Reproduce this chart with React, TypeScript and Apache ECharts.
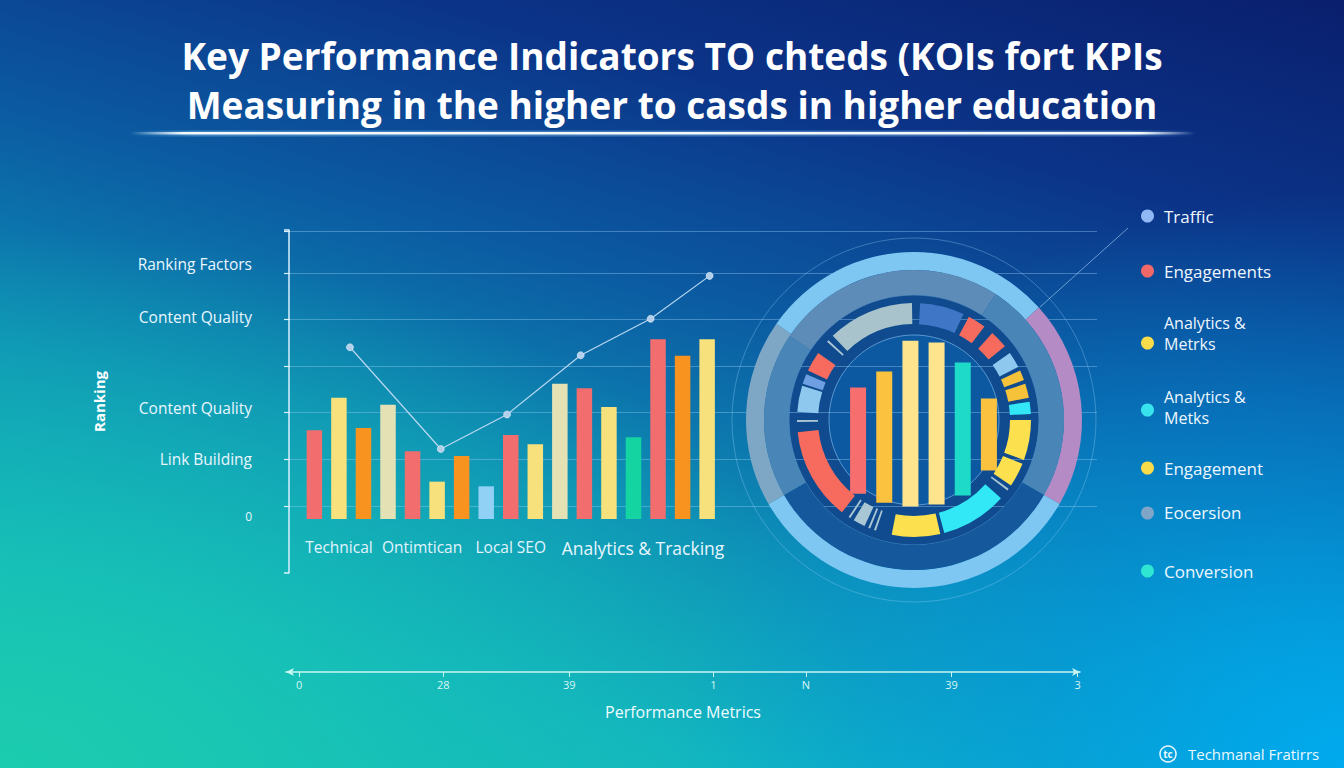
import React, { useEffect, useRef } from 'react';
import * as echarts from 'echarts';

// ---------------- DATA ----------------
const titleLines = [
  'Key Performance Indicators TO chteds (KOIs fort KPIs',
  'Measuring in the higher to casds in higher education',
];

const barCategories = ['', 'Technical', '', '', 'Ontimtican', '', '', '', 'Local SEO', '', '', '', '', 'Analytics & Tracking', '', '', ''];
const barValues = [19, 26, 19.5, 24.5, 14.5, 8, 13.5, 7, 18, 16, 29, 28, 24, 17.5, 38.5, 35, 38.5];
const barKinds = ['red', 'yellow', 'orange', 'cream', 'red', 'yellow', 'orange', 'sky', 'red', 'yellow', 'cream', 'red', 'yellow', 'green', 'red', 'orange', 'yellow'];

const trendX = [1.45, 5.15, 7.85, 10.85, 13.7, 16.1];
const trendValues = [36.8, 15, 22.4, 35.1, 42.9, 52.1];

const rankingTicks = [0, 1, 2, 3, 4, 5];
const rankingLabels = ['0', 'Link Building', 'Content Quality', '', 'Content Quality', 'Ranking Factors'];
const rankingAxisName = 'Ranking';

const perfTicks = [0, 18.5, 34.7, 53.2, 65.1, 83.8, 100];
const perfLabels = ['0', '28', '39', '1', 'N', '39', '3'];
const perfAxisName = 'Performance Metrics';

const dialCategories = ['A', 'B', 'C', 'D', 'E', 'F'];
const dialBarLow = [9, 4, 2, 3, 8, 22];
const dialBarHigh = [68, 77, 94, 93, 82, 62];
const dialBarKinds = ['red', 'amber', 'butter', 'butter', 'teal', 'amber'];

const outerBand = [48, 72, 120, 65, 55];
const outerBandKinds = ['sky', 'violet', 'sky', 'slate', 'sky'];

const steelBand = [33, 87, 120, 64, 56];
const steelBandKinds = ['steelLight', 'steel', 'navy', 'steel', 'steelLight'];

const segValues = [3, 22, 3, 9, 5, 9, 4, 8, 2, 5, 2, 7, 2, 6, 3, 20, 2, 12, 2, 1, 5, 33, 2, 24, 8, 1, 2, 1, 2, 6, 2, 1, 4, 46, 5, 1, 4, 13, 1, 5, 2, 10, 7, 1, 3, 43, 1];
const segKinds = ['gap', 'blue', 'gap', 'coral', 'gap', 'coral', 'gap', 'ice', 'gap', 'amber', 'gap', 'amber', 'gap', 'aqua', 'gap', 'lemon', 'gap', 'lemon', 'gap', 'mist', 'gap', 'aqua', 'gap', 'lemon', 'gap', 'mist', 'gap', 'mist', 'gap', 'mist', 'gap', 'mist', 'gap', 'coral', 'gap', 'mist', 'gap', 'ice', 'gap', 'cornflower', 'gap', 'coral', 'gap', 'mist', 'gap', 'sand', 'gap'];

const legendNames = ['Traffic', 'Engagements', 'Analytics &\nMetrks', 'Analytics &\nMetks', 'Engagement', 'Eocersion', 'Conversion'];
const legendKinds = ['periwinkle', 'red', 'yellow', 'cyan', 'yellow', 'slate', 'teal'];

const brandName = 'Techmanal Fratirrs';
const brandMark = 'tc';

// ---------------- STYLE / LAYOUT ----------------
const FONT = '"Open Sans", "Noto Sans", sans-serif';

const barPalette: Record<string, string> = {
  red: '#f26d6e', yellow: '#f6e17c', orange: '#f7931e', cream: '#e4e2b4', sky: '#90d1f5', green: '#14d5a2',
};
const dialPalette: Record<string, string> = {
  red: '#f76e6e', amber: '#fac23e', butter: '#fde48d', teal: '#1edbc9',
};
const bandPalette: Record<string, string> = {
  sky: '#7ec7f3', violet: '#b48bc4', slate: '#7ea7c5',
  steelLight: '#5d8cb8', steel: '#4a85b7', navy: '#16589c',
};
const segPalette: Record<string, string> = {
  gap: 'rgba(0,0,0,0)', blue: '#3f76c6', coral: '#f66b5d', ice: '#8fc8ef', amber: '#f6c23a',
  aqua: '#33e8f6', lemon: '#fde04e', mist: '#a9c6d4', cornflower: '#6f9fe3', sand: '#a8c3cb',
};
const legendPalette: Record<string, string> = {
  periwinkle: '#8fb8f4', red: '#f26868', yellow: '#f8dc4a', cyan: '#37e4ee', slate: '#7fa6c8', teal: '#2ee6d2',
};

const CX = 914;
const CY = 420;
const legendRows = [
  { dot: 216, text: 216 },
  { dot: 271, text: 271 },
  { dot: 343, text: 333.5 },
  { dot: 410, text: 407.5 },
  { dot: 468, text: 468 },
  { dot: 513, text: 512 },
  { dot: 571, text: 571 },
];
const rankShiftKey = ['d10', 'n', 'u5', 'n', 'u2', 'u9'];

const BG = [
  'radial-gradient(ellipse 50% 75% at 100% 100%, rgba(0,170,238,1) 0%, rgba(0,160,232,0.55) 45%, rgba(0,140,220,0) 100%)',
  'radial-gradient(ellipse 65% 70% at 0% 100%, rgba(28,204,174,1) 0%, rgba(24,196,178,0.55) 50%, rgba(20,180,180,0) 100%)',
  'linear-gradient(195deg, #0a1f6e 0%, #0b3488 22%, #0b5ca2 42%, #0d8db6 62%, #11b2c2 82%, #16c2bc 100%)',
].join(',');

function buildOption() {
  const graphicEls: any[] = [
    {
      type: 'rect', z: 5,
      shape: { x: 130, y: 130.5, width: 1065, height: 6 },
      style: {
        fill: new echarts.graphic.LinearGradient(0, 0, 1, 0, [
          { offset: 0, color: 'rgba(120,200,255,0)' },
          { offset: 0.06, color: 'rgba(150,215,255,0.35)' },
          { offset: 0.94, color: 'rgba(150,215,255,0.35)' },
          { offset: 1, color: 'rgba(120,200,255,0)' },
        ]),
      },
    },
    {
      type: 'rect', z: 6,
      shape: { x: 130, y: 132, width: 1065, height: 2.5 },
      style: {
        fill: new echarts.graphic.LinearGradient(0, 0, 1, 0, [
          { offset: 0, color: 'rgba(255,255,255,0)' },
          { offset: 0.05, color: 'rgba(255,255,255,0.95)' },
          { offset: 0.95, color: 'rgba(255,255,255,0.95)' },
          { offset: 1, color: 'rgba(255,255,255,0)' },
        ]),
      },
    },
    {
      type: 'circle', z: -6, silent: true,
      shape: { cx: CX, cy: CY, r: 182 },
      style: { fill: 'none', stroke: 'rgba(150,205,250,0.35)', lineWidth: 1 },
    },
    {
      type: 'circle', z: -5, silent: true,
      shape: { cx: CX, cy: CY, r: 125 },
      style: { fill: '#0f4b8e', stroke: 'rgba(160,215,255,0.35)', lineWidth: 1 },
    },
    {
      type: 'circle', z: -4, silent: true,
      shape: { cx: CX, cy: CY, r: 85 },
      style: { fill: '#0d59a1', stroke: 'rgba(150,210,255,0.55)', lineWidth: 1 },
    },
    {
      type: 'line', z: 4, silent: true,
      shape: { x1: 1040, y1: 307, x2: 1128, y2: 228 },
      style: { stroke: 'rgba(170,215,255,0.6)', lineWidth: 1 },
    },
    {
      type: 'circle', z: 6,
      shape: { cx: 1168, cy: 754, r: 8 },
      style: { fill: 'none', stroke: '#eaf8ff', lineWidth: 1.5 },
    },
    {
      type: 'text', z: 6, x: 1168, y: 754,
      style: { text: brandMark, fill: '#eaf8ff', fontSize: 10, fontWeight: 700, fontFamily: FONT, align: 'center', verticalAlign: 'middle' },
    },
    {
      type: 'text', z: 6, x: 1188, y: 754,
      style: { text: brandName, fill: '#eaf8ff', fontSize: 15, fontFamily: FONT, align: 'left', verticalAlign: 'middle' },
    },
  ];

  legendNames.forEach((name, i) => {
    const row = legendRows[i];
    graphicEls.push({
      type: 'circle', z: 6,
      shape: { cx: 1147.5, cy: row.dot, r: 6.5 },
      style: { fill: legendPalette[legendKinds[i]] },
    });
    const twoLine = name.indexOf('\n') >= 0;
    graphicEls.push({
      type: 'text', z: 6, x: 1164, y: row.text,
      style: {
        text: name, fill: '#eef7ff', fontSize: twoLine ? 16 : 17, lineHeight: twoLine ? 21 : 22,
        fontFamily: FONT, align: 'left', verticalAlign: 'middle',
      },
    });
  });

  const axisWhite = '#d8f0ff';
  const labelColor = '#eaf6ff';

  return {
    animation: false,
    backgroundColor: 'transparent',
    textStyle: { fontFamily: FONT },
    title: {
      text: titleLines.join('\n'),
      left: 'center',
      top: 26,
      textStyle: { color: '#ffffff', fontSize: 37, fontWeight: 700, fontFamily: FONT, lineHeight: 49 },
    },
    grid: [
      { left: 290, top: 231.7, width: 807, height: 274.3, outerBoundsMode: 'none' },
      { left: 302.1, top: 239, width: 417.3, height: 280, outerBoundsMode: 'none' },
      { left: 289, top: 230, width: 1, height: 343, outerBoundsMode: 'none' },
      { left: 845, top: 330, width: 157, height: 180, outerBoundsMode: 'none' },
      { left: 286, top: 600, width: 794, height: 72, outerBoundsMode: 'none' },
    ],
    xAxis: [
      { gridIndex: 0, type: 'value', min: 0, max: 1, show: false },
      {
        gridIndex: 1, type: 'category', data: barCategories,
        axisLine: { show: false }, axisTick: { show: false }, splitLine: { show: false },
        axisLabel: {
          interval: 0, margin: 20, color: '#e2f4ff', fontSize: 15.5, fontFamily: FONT,
          formatter: (v: string) => {
            if (!v) return '';
            if (v === 'Ontimtican') return `{s|${v}}`;
            if (v.indexOf('Analytics') === 0) return `{b|${v}}`;
            return v;
          },
          rich: {
            s: { padding: [0, 0, 0, 19], fontSize: 15.5, color: '#e2f4ff', fontFamily: FONT },
            b: { padding: [0, 0, 0, 19], fontSize: 17.5, color: '#e8f6ff', fontFamily: FONT },
          },
        },
      },
      { gridIndex: 1, type: 'value', min: -0.5, max: 16.5, show: false },
      { gridIndex: 2, type: 'value', show: false },
      { gridIndex: 3, type: 'category', data: dialCategories, show: false },
      {
        gridIndex: 4, type: 'value', min: -1.7, max: 100.3,
        name: perfAxisName, nameLocation: 'middle', nameGap: 32,
        nameTextStyle: { color: '#f0fbff', fontSize: 16, fontFamily: FONT },
        axisLine: { show: true, symbol: ['arrow', 'arrow'], symbolSize: [6, 8], lineStyle: { color: '#c9f5f2', width: 1.5 } },
        axisTick: { show: true, customValues: perfTicks, length: 5, lineStyle: { color: '#c9f5f2' } },
        axisLabel: {
          customValues: perfTicks, margin: 7, color: '#d8f6f4', fontSize: 11, fontFamily: FONT,
          formatter: (v: number) => {
            const i = perfTicks.indexOf(v);
            return i < 0 ? '' : perfLabels[i];
          },
        },
        splitLine: { show: false },
      },
    ],
    yAxis: [
      {
        gridIndex: 0, type: 'value', min: 0, max: 5.88, interval: 1,
        axisLine: { show: false },
        axisTick: { show: true, length: 6, lineStyle: { color: axisWhite, width: 1.2 } },
        splitLine: { show: true, lineStyle: { color: 'rgba(150,205,245,0.4)', width: 1 } },
        axisLabel: {
          margin: 38, color: labelColor, fontSize: 15.5, fontFamily: FONT,
          formatter: (v: number) => {
            const i = rankingTicks.indexOf(v);
            if (i < 0 || !rankingLabels[i]) return '';
            return `{${rankShiftKey[i]}|${rankingLabels[i]}}`;
          },
          rich: {
            n: { fontSize: 15.5, color: labelColor, fontFamily: FONT },
            d10: { padding: [20, 0, 0, 0], fontSize: 12, color: labelColor, fontFamily: FONT },
            u5: { padding: [0, 0, 9, 0], fontSize: 15.5, color: labelColor, fontFamily: FONT },
            u2: { padding: [0, 0, 4, 0], fontSize: 15.5, color: labelColor, fontFamily: FONT },
            u9: { padding: [0, 0, 17, 0], fontSize: 15.5, color: labelColor, fontFamily: FONT },
          },
        },
      },
      { gridIndex: 1, type: 'value', min: 0, max: 60, show: false },
      {
        gridIndex: 2, type: 'value', min: 0, max: 1, interval: 1,
        name: rankingAxisName, nameLocation: 'middle', nameRotate: 90, nameGap: 183,
        nameTextStyle: { color: '#ffffff', fontSize: 15, fontWeight: 700, fontFamily: FONT },
        axisLine: { show: true, lineStyle: { color: axisWhite, width: 1.5 } },
        axisTick: { show: true, length: 5, lineStyle: { color: axisWhite, width: 1.5 } },
        axisLabel: { show: false },
        splitLine: { show: false },
      },
      { gridIndex: 3, type: 'value', min: 0, max: 100, show: false },
      { gridIndex: 4, type: 'value', show: false },
    ],
    series: [
      {
        type: 'bar', name: 'Ranking bars', xAxisIndex: 1, yAxisIndex: 1, barWidth: 15.5,
        silent: true,
        data: barValues.map((v, i) => ({ value: v, itemStyle: { color: barPalette[barKinds[i]] } })),
      },
      {
        type: 'line', name: 'Trend', xAxisIndex: 2, yAxisIndex: 1, silent: true,
        symbol: 'circle', symbolSize: 7,
        lineStyle: { color: '#b9d8f2', width: 1.2 },
        itemStyle: { color: '#b2d0ec', borderColor: 'rgba(255,255,255,0.5)', borderWidth: 1 },
        data: trendX.map((x, i) => [x, trendValues[i]]),
        z: 4,
      },
      {
        type: 'pie', name: 'Outer band', silent: true, center: [CX, CY], radius: [150, 168],
        label: { show: false }, labelLine: { show: false }, emphasis: { disabled: true },
        data: outerBand.map((v, i) => ({ value: v, name: 'o' + i, itemStyle: { color: bandPalette[outerBandKinds[i]] } })),
      },
      {
        type: 'pie', name: 'Steel band', silent: true, center: [CX, CY], radius: [125, 150],
        label: { show: false }, labelLine: { show: false }, emphasis: { disabled: true },
        data: steelBand.map((v, i) => ({ value: v, name: 's' + i, itemStyle: { color: bandPalette[steelBandKinds[i]] } })),
      },
      {
        type: 'pie', name: 'Segments', silent: true, center: [CX, CY], radius: [96, 117],
        label: { show: false }, labelLine: { show: false }, emphasis: { disabled: true },
        data: segValues.map((v, i) => ({ value: v, name: 'g' + i, itemStyle: { color: segPalette[segKinds[i]] } })),
      },
      {
        type: 'bar', name: 'Dial base', xAxisIndex: 4, yAxisIndex: 3, stack: 'dial', barWidth: 16, silent: true,
        itemStyle: { color: 'rgba(0,0,0,0)' },
        data: dialBarLow,
      },
      {
        type: 'bar', name: 'Dial bars', xAxisIndex: 4, yAxisIndex: 3, stack: 'dial', barWidth: 16, silent: true,
        data: dialBarHigh.map((h, i) => ({ value: h - dialBarLow[i], itemStyle: { color: dialPalette[dialBarKinds[i]] } })),
      },
    ],
    graphic: { elements: graphicEls },
  };
}

export default function App() {
  const ref = useRef<HTMLDivElement>(null);
  useEffect(() => {
    if (!ref.current) return;
    const chart = echarts.init(ref.current, null, { renderer: 'svg', width: 1344, height: 768 });
    chart.setOption(buildOption() as any);
    return () => chart.dispose();
  }, []);
  return (
    <div style={{ position: 'fixed', left: 0, top: 0, width: 1344, height: 768, background: BG, overflow: 'hidden' }}>
      <div ref={ref} style={{ width: 1344, height: 768 }} />
    </div>
  );
}
